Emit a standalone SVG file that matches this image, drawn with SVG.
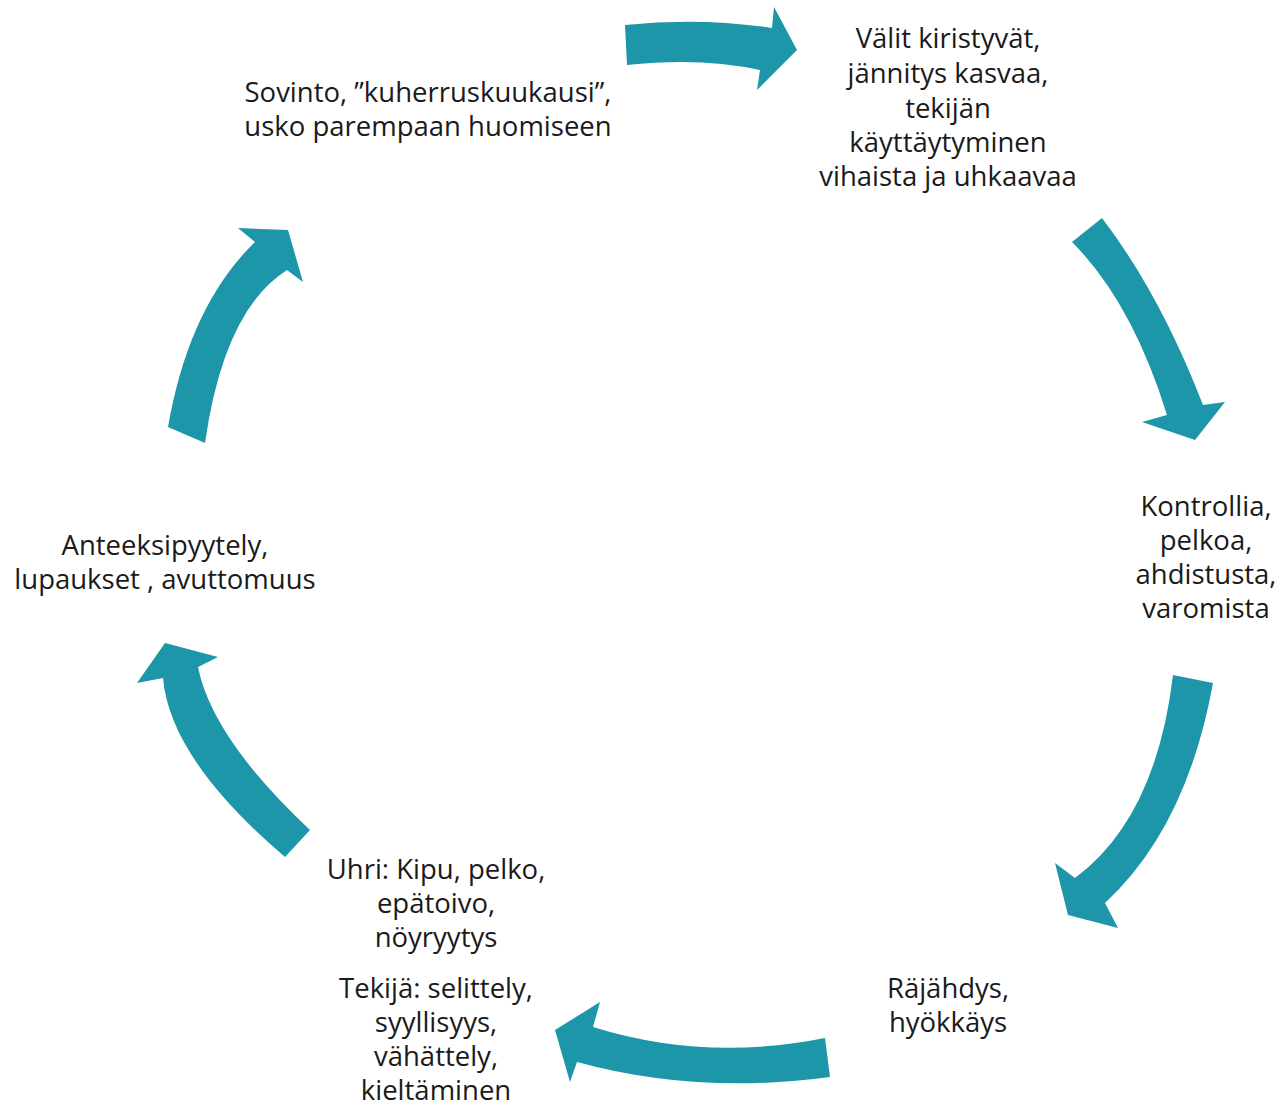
<svg xmlns="http://www.w3.org/2000/svg" width="1281" height="1107" viewBox="0 0 1281 1107">
<style>
.t{font-family:"Open Sans",Lato,"Liberation Sans",sans-serif;font-size:27.5px;fill:#1a1a1a;text-anchor:middle}
.a{fill:#1c96a8}
</style>
<rect width="1281" height="1107" fill="#ffffff"/>
<g id="connectors">
<path class="a" d="M625,25 Q700,17 772,28 L774,7 L797,50 L757,90 L760,70 Q700,57 627,65 Z"/>
<path class="a" d="M1102,218 Q1160,294 1203,405 L1225,402 L1195,440 L1142,422 L1167,415 Q1132,302 1072,242 Z"/>
<path class="a" d="M1213,683 Q1187,827 1105,903 L1118,928 L1068,915 L1055,863 L1075,878 Q1156,818 1173,675 Z"/>
<path class="a" d="M825,1038 Q705,1062 593,1027 L600,1002 L555,1030 L570,1082 L577,1062 Q697,1095 830,1077 Z"/>
<path class="a" d="M310,830 Q212,738 198,667 L218,657 L165,643 L137,683 L163,678 Q170,759 285,857 Z"/>
<path class="a" d="M168,427 Q189,306 255,242 L238,228 L288,230 L303,282 L287,270 Q224,310 205,443 Z"/>
</g>
<g id="n1"><text class="t" x="428" y="102">Sovinto, ”kuherruskuukausi”,</text><text class="t" x="428" y="136">usko parempaan huomiseen</text></g>
<g id="n2"><text class="t" x="948" y="48">Välit kiristyvät,</text><text class="t" x="948" y="83">jännitys kasvaa,</text><text class="t" x="948" y="118">tekijän</text><text class="t" x="948" y="152">käyttäytyminen</text><text class="t" x="948" y="186">vihaista ja uhkaavaa</text></g>
<g id="n3"><text class="t" x="1206" y="516">Kontrollia,</text><text class="t" x="1206" y="550">pelkoa,</text><text class="t" x="1206" y="584">ahdistusta,</text><text class="t" x="1206" y="618">varomista</text></g>
<g id="n4"><text class="t" x="948" y="998">Räjähdys,</text><text class="t" x="948" y="1032">hyökkäys</text></g>
<g id="n5"><text class="t" x="436" y="879">Uhri: Kipu, pelko,</text><text class="t" x="436" y="913">epätoivo,</text><text class="t" x="436" y="947">nöyryytys</text><text class="t" x="436" y="998">Tekijä: selittely,</text><text class="t" x="436" y="1032">syyllisyys,</text><text class="t" x="436" y="1066">vähättely,</text><text class="t" x="436" y="1100">kieltäminen</text></g>
<g id="n6"><text class="t" x="165" y="555">Anteeksipyytely,</text><text class="t" x="165" y="589">lupaukset , avuttomuus</text></g>
</svg>
